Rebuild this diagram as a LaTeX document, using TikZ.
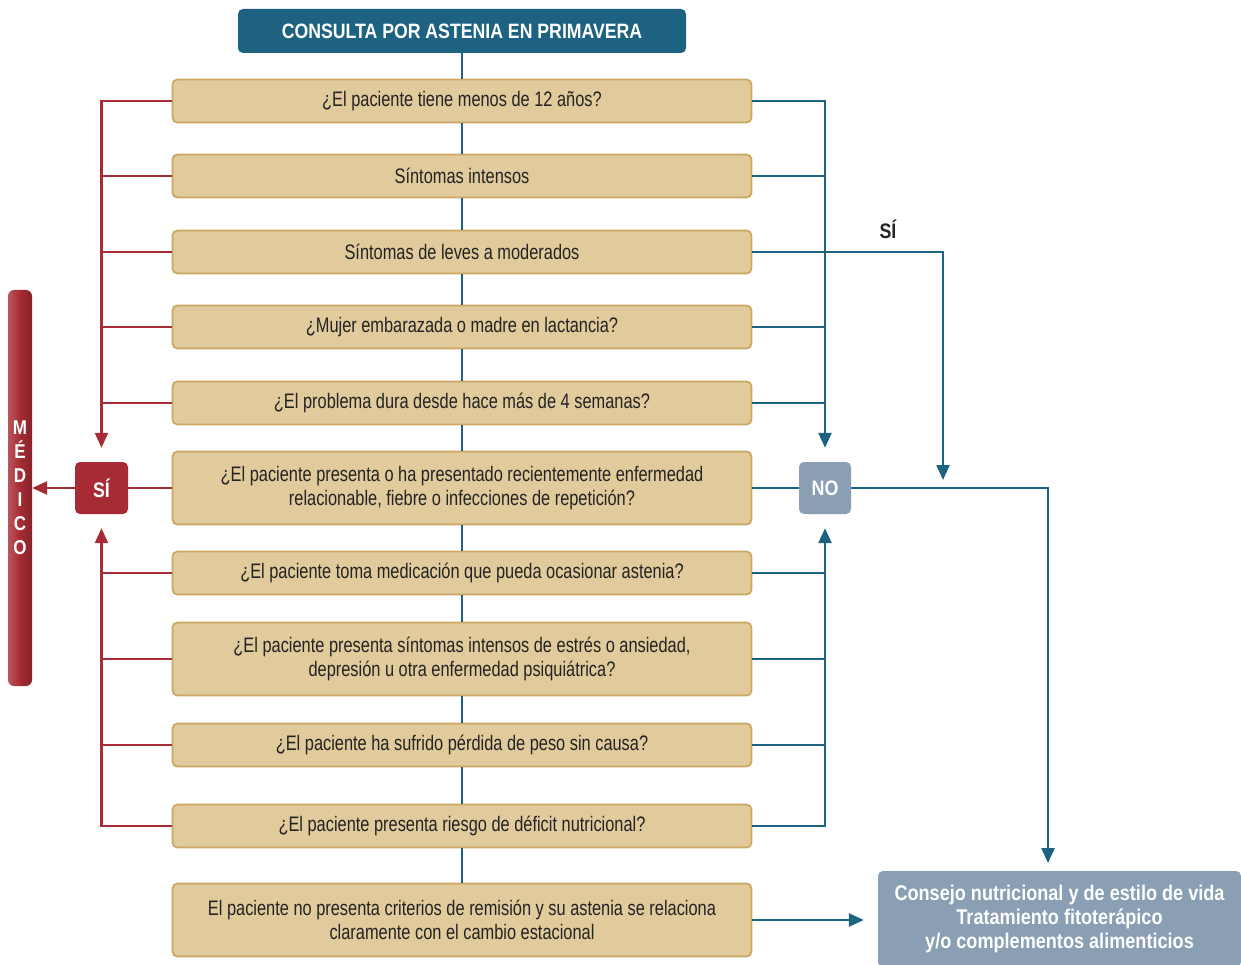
\documentclass[tikz,border=0pt]{standalone}
\usepackage{fontspec}
\setmainfont{Liberation Sans}[FakeStretch=0.78, BoldFeatures={FakeStretch=0.85}]
\usetikzlibrary{arrows.meta}
\definecolor{azul}{HTML}{1D6381}
\definecolor{rojo}{HTML}{A72B34}
\definecolor{beis}{HTML}{E1CA9B}
\definecolor{borde}{HTML}{CDA760}
\definecolor{gris}{HTML}{8A9FB3}
\definecolor{tinta}{HTML}{232323}
\begin{document}
\begin{tikzpicture}[x=1pt, y=-1pt,
	pregunta/.style={draw=borde, line width=1.8pt, fill=beis, rounded corners=5pt, minimum width=579pt, minimum height=43pt, inner sep=0pt, align=center, text=tinta, font=\fontsize{21}{24}\selectfont},
	caja/.style={rounded corners=5pt, inner sep=0pt, align=center, text=white, font=\bfseries\fontsize{21}{24}\selectfont},
	linea/.style={line width=2.4pt},
	flecha/.style={line width=2.4pt, -{Triangle[length=15pt, width=13pt]}}]
	\useasboundingbox (0,0) rectangle (1241,965);
	% cabecera y preguntas
	\node [caja, fill=azul, minimum width=448pt, minimum height=44pt, font=\bfseries\fontsize{20.8}{24}\selectfont] (titulo) at (462,31) {CONSULTA POR ASTENIA EN PRIMAVERA};
	\node [pregunta] (p1) at (462,101) {¿El paciente tiene menos de 12 años?};
	\node [pregunta] (p2) at (462,176) {Síntomas intensos};
	\node [pregunta] (p3) at (462,252) {Síntomas de leves a moderados};
	\node [pregunta] (p4) at (462,327) {¿Mujer embarazada o madre en lactancia?};
	\node [pregunta] (p5) at (462,403) {¿El problema dura desde hace más de 4 semanas?};
	\node [pregunta, minimum height=73pt] (p6) at (462,488) {¿El paciente presenta o ha presentado recientemente enfermedad\\relacionable, fiebre o infecciones de repetición?};
	\node [pregunta] (p7) at (462,573) {¿El paciente toma medicación que pueda ocasionar astenia?};
	\node [pregunta, minimum height=73pt] (p8) at (462,659) {¿El paciente presenta síntomas intensos de estrés o ansiedad,\\depresión u otra enfermedad psiquiátrica?};
	\node [pregunta] (p9) at (462,745) {¿El paciente ha sufrido pérdida de peso sin causa?};
	\node [pregunta] (p10) at (462,826) {¿El paciente presenta riesgo de déficit nutricional?};
	\node [pregunta, minimum height=73pt] (p11) at (462,920) {El paciente no presenta criterios de remisión y su astenia se relaciona\\claramente con el cambio estacional};
	% respuestas
	\node [caja, fill=rojo, minimum width=53pt, minimum height=52pt] (si) at (101.5,488) {SÍ};
	\node [caja, fill=gris, minimum width=52pt, minimum height=52pt] (no) at (825,488) {NO};
	\node [rounded corners=6pt, left color=rojo!80!white, right color=rojo!80!black, middle color=rojo, minimum width=24pt, minimum height=396pt, inner sep=0pt] (medico) at (20,488) {};
	\node [text=white, font=\bfseries\fontsize{20}{24}\selectfont, align=center] (letras) at (medico) {M\\É\\D\\I\\C\\O};
	\node [caja, fill=gris, minimum width=363pt, minimum height=96pt, font=\bfseries\fontsize{21.3}{24}\selectfont] (final) at (1059.5,919) {Consejo nutricional y de estilo de vida\\Tratamiento fitoterápico\\y/o complementos alimenticios};
	\node [text=tinta, font=\bfseries\fontsize{21}{24}\selectfont] (etiqueta) at (888,229) {SÍ};
	\coordinate (giro) at (943,480);
	\coordinate (bajada) at (1048,863);
	% eje central
	\foreach \a/\b in {titulo/p1,p1/p2,p2/p3,p3/p4,p4/p5,p5/p6,p6/p7,p7/p8,p8/p9,p9/p10,p10/p11}
		\draw [azul, line width=2pt] (\a.south) -- (\b.north);
	% ramas rojas
	\draw [rojo, flecha, shorten >=14pt] (p1.west) -| (si.north);
	\draw [rojo, flecha, shorten >=14pt] (p10.west) -| (si.south);
	\foreach \p in {p2,p3,p4,p5,p7,p8,p9}
		\draw [rojo, linea] (\p.west) -- (\p.west -| si.north);
	\draw [rojo, linea] (p6.west) -- (si.east);
	\draw [rojo, flecha] (si.west) -- (medico.east);
	% ramas azules
	\draw [azul, flecha, shorten >=14pt] (p1.east) -| (no.north);
	\draw [azul, flecha, shorten >=14pt] (p10.east) -| (no.south);
	\foreach \p in {p2,p4,p5,p7,p8,p9}
		\draw [azul, linea] (\p.east) -- (\p.east -| no.north);
	\draw [azul, linea] (p6.east) -- (no.west);
	\draw [azul, flecha] (p3.east) -| (giro);
	\draw [azul, flecha] (no.east) -| (bajada);
	\draw [azul, flecha, shorten >=14pt] (p11.east) -- (p11.east -| final.west);
\end{tikzpicture}
\end{document}
